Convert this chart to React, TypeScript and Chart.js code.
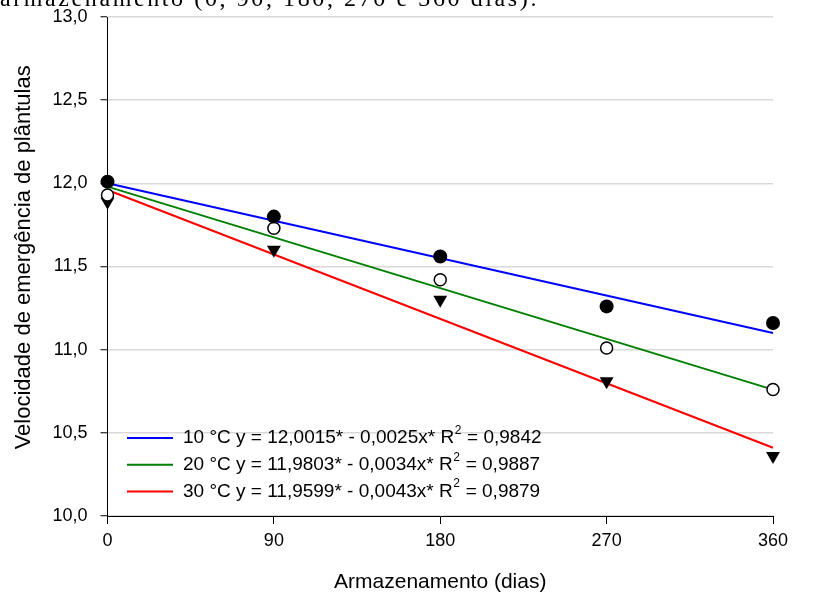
import React, { useEffect, useRef } from "react";
import { Chart, registerables } from "chart.js";

Chart.register(...registerables);

// ---- data ----
const days = [0, 90, 180, 270, 360];
const vel10 = [12.01, 11.8, 11.56, 11.26, 11.16];
const vel20 = [11.93, 11.73, 11.42, 11.01, 10.76];
const vel30 = [11.89, 11.6, 11.3, 10.81, 10.36];

const fitDays = [0, 360];
const fit10 = [12.0, 11.1];
const fit20 = [11.98, 10.76];
const fit30 = [11.96, 10.41];

const legendLabels = [
  "10 °C y = 12,0015* - 0,0025x* R² = 0,9842",
  "20 °C y = 11,9803* - 0,0034x* R² = 0,9887",
  "30 °C y = 11,9599* - 0,0043x* R² = 0,9879",
];
const fitColors = ["#0000ff", "#008000", "#ff0000"];

const yMin = 10;
const yMax = 13;
const yStep = 0.5;
const xMin = 0;
const xMax = 360;
const xStep = 90;

const yTitle = "Velocidade de emergência de plântulas";
const xTitle = "Armazenamento (dias)";
const caption = "armazenamento (0, 90, 180, 270 e 360 dias).";

const FONT = '"Liberation Sans", Arial, sans-serif';

const pts = (xs: number[], ys: number[]) => xs.map((x, i) => ({ x, y: ys[i] }));

const insideLegend = {
  id: "insideLegend",
  afterDraw(chart: any) {
    const ctx = chart.ctx;
    const fitSets = chart.data.datasets.filter((d: any) => d.isFit);
    ctx.save();
    fitSets.forEach((ds: any, i: number) => {
      const y = 438 + i * 26.8;
      ctx.strokeStyle = ds.borderColor;
      ctx.lineWidth = 2;
      ctx.beginPath();
      ctx.moveTo(127, y);
      ctx.lineTo(173, y);
      ctx.stroke();
      ctx.fillStyle = "#000";
      ctx.textBaseline = "middle";
      ctx.textAlign = "left";
      const parts = String(ds.label).split("²");
      let x = 183;
      ctx.font = `19px ${FONT}`;
      ctx.fillText(parts[0], x, y);
      x += ctx.measureText(parts[0]).width;
      if (parts.length > 1) {
        ctx.font = `12px ${FONT}`;
        ctx.fillText("2", x + 0.5, y - 7.5);
        x += ctx.measureText("2").width + 1;
        ctx.font = `19px ${FONT}`;
        ctx.fillText(parts[1], x, y);
      }
    });
    ctx.restore();
  },
};

export default function App() {
  const ref = useRef<HTMLCanvasElement>(null);
  useEffect(() => {
    const markerBase = { showLine: false, clip: false as any, order: 0 };
    const chart = new Chart(ref.current as HTMLCanvasElement, {
      type: "scatter",
      data: {
        datasets: [
          {
            ...markerBase,
            label: "10 °C",
            data: pts(days, vel10),
            pointStyle: "circle",
            pointRadius: 7,
            pointBackgroundColor: "#000",
            pointBorderColor: "#000",
            pointBorderWidth: 0,
          },
          {
            ...markerBase,
            label: "20 °C",
            data: pts(days, vel20),
            pointStyle: "circle",
            pointRadius: 6,
            pointBackgroundColor: "#fff",
            pointBorderColor: "#000",
            pointBorderWidth: 1.5,
          },
          {
            ...markerBase,
            label: "30 °C",
            data: pts(days, vel30),
            pointStyle: "triangle",
            pointRotation: 180,
            pointRadius: 8,
            pointBackgroundColor: "#000",
            pointBorderColor: "#000",
            pointBorderWidth: 0,
          },
          ...[fit10, fit20, fit30].map((f, i) => ({
            label: legendLabels[i],
            isFit: true,
            data: pts(fitDays, f),
            showLine: true,
            borderColor: fitColors[i],
            borderWidth: 2,
            pointRadius: 0,
            order: 1,
            clip: false as any,
          })),
        ] as any,
      },
      options: {
        animation: false,
        responsive: false,
        devicePixelRatio: 1,
        layout: { padding: { left: 0, right: 40, top: 17, bottom: 0 } },
        plugins: { legend: { display: false }, tooltip: { enabled: false } },
        events: [],
        scales: {
          x: {
            type: "linear",
            min: xMin,
            max: xMax,
            afterFit: (s: any) => {
              s.height = 82;
            },
            ticks: {
              stepSize: xStep,
              color: "#000",
              font: { family: FONT, size: 18 },
              padding: 6,
              maxRotation: 0,
            },
            grid: {
              drawOnChartArea: false,
              drawTicks: true,
              tickLength: 8,
              tickColor: "#000",
              tickWidth: 1,
            },
            border: { display: true, color: "#000", width: 1 },
            title: {
              display: true,
              text: xTitle,
              color: "#000",
              font: { family: FONT, size: 21 },
              padding: { top: 0, bottom: 3 },
            },
          },
          y: {
            type: "linear",
            min: yMin,
            max: yMax,
            afterFit: (s: any) => {
              s.width = 107.5;
              s.paddingTop = 0;
              s.paddingBottom = 0;
            },
            ticks: {
              stepSize: yStep,
              color: "#000",
              font: { family: FONT, size: 18 },
              padding: 13,
              callback: (v: any) => Number(v).toFixed(1).replace(".", ","),
            },
            grid: {
              color: "#d9d9d9",
              lineWidth: 1.5,
              drawTicks: true,
              tickLength: 7,
              tickColor: "#000",
              tickWidth: 1,
            },
            border: { display: true, color: "#000", width: 1 },
            title: {
              display: true,
              text: "   " + yTitle,
              color: "#000",
              font: { family: FONT, size: 22 },
              padding: { top: 11, bottom: 0 },
            },
          },
        },
      },
      plugins: [insideLegend],
    });
    return () => chart.destroy();
  }, []);

  return (
    <div
      style={{
        position: "fixed",
        left: 0,
        top: 0,
        width: 813,
        height: 598,
        background: "#fff",
        overflow: "hidden",
      }}
    >
      <canvas
        ref={ref}
        width={813}
        height={598}
        style={{ position: "absolute", left: 0, top: 0, width: 813, height: 598 }}
      />
      <div
        style={{
          position: "absolute",
          left: 0,
          top: -14,
          fontFamily: '"Liberation Serif", "Times New Roman", serif',
          fontSize: 24,
          lineHeight: "24px",
          letterSpacing: 2.6,
          whiteSpace: "nowrap",
          color: "#000",
        }}
      >
        {caption}
      </div>
    </div>
  );
}
